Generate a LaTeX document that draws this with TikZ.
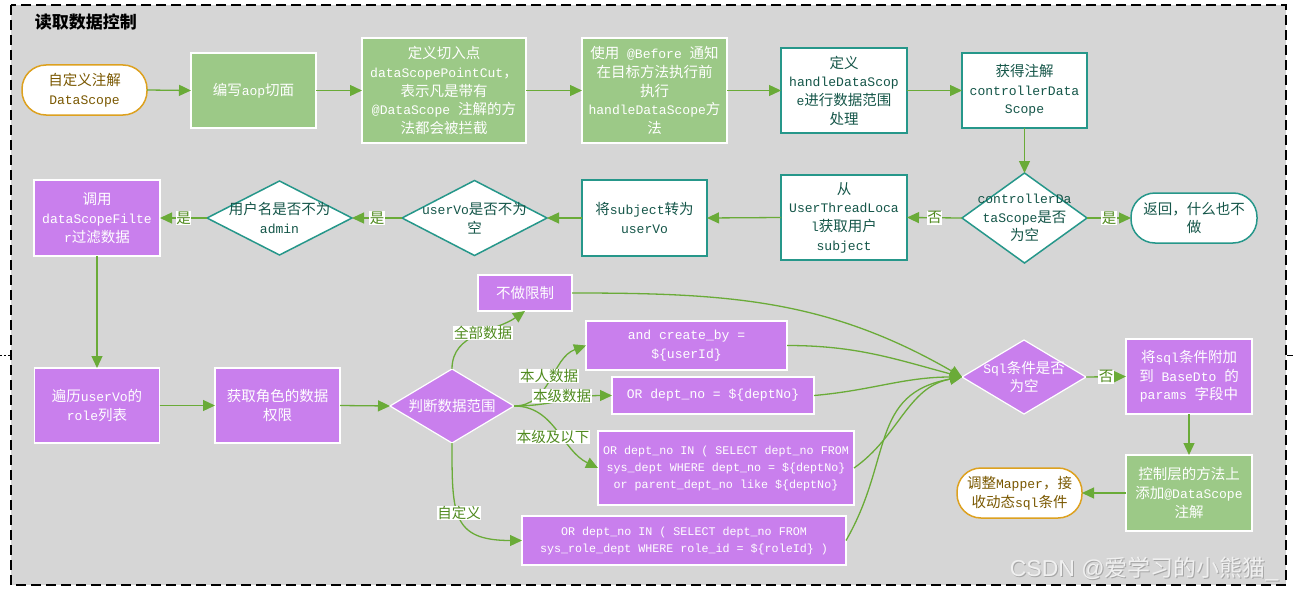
\documentclass[tikz,border=0pt]{standalone}
\usepackage{fontspec}
\usetikzlibrary{arrows.meta,shapes.geometric}
\setmainfont{Liberation Mono}[Scale=0.9]
\newfontfamily\lmono{Liberation Mono}[Scale=0.9]
\newfontfamily\cjk{Noto Sans CJK SC}
\newfontfamily\wmsans{Liberation Sans}
\def\latinsw{\lmono}
\chardef\CJKcls=7
\newcount\cjkc
\cjkc="4E00 \loop\XeTeXcharclass\cjkc=\CJKcls\advance\cjkc by 1 \ifnum\cjkc<"A000 \repeat
\cjkc="3000 \loop\XeTeXcharclass\cjkc=\CJKcls\advance\cjkc by 1 \ifnum\cjkc<"3040 \repeat
\cjkc="FF00 \loop\XeTeXcharclass\cjkc=\CJKcls\advance\cjkc by 1 \ifnum\cjkc<"FF60 \repeat
\XeTeXinterchartoks 0 \CJKcls={\cjk}
\XeTeXinterchartoks 4095 \CJKcls={\cjk}
\XeTeXinterchartoks \CJKcls 0={\latinsw}
\XeTeXinterchartoks \CJKcls 4095={\latinsw}
\XeTeXinterchartokenstate=1
\definecolor{bg}{HTML}{D6D6D6}
\definecolor{gfill}{HTML}{9CC987}
\definecolor{pfill}{HTML}{C97FED}
\definecolor{tealb}{HTML}{26978A}
\definecolor{tealt}{HTML}{155649}
\definecolor{orab}{HTML}{DDA11F}
\definecolor{orat}{HTML}{7A5800}
\definecolor{lgreen}{HTML}{6AAB38}
\definecolor{ltext}{HTML}{4F8A1E}
\newcommand\nodefnt{\fontsize{14.5}{18.7}\selectfont}
\newcommand\smallfnt{\fontsize{13}{17}\selectfont}
\tikzset{
 every node/.style={outer sep=0pt},
 base/.style={align=center, inner sep=1pt, font=\nodefnt},
 sz/.style 2 args={minimum width=#1pt, minimum height=#2pt},
 gbox/.style={base, draw=white, fill=gfill, line width=1.2pt, text=white},
 pbox/.style={base, draw=white, fill=pfill, line width=1.2pt, text=white},
 tbox/.style={base, draw=tealb, fill=white, line width=1.5pt, text=tealt},
 tterm/.style={tbox, rounded corners=24pt},
 oterm/.style={base, draw=orab, fill=white, line width=1.5pt, text=orat, rounded corners=24pt},
 tdia/.style={diamond, draw=tealb, fill=white, line width=1.5pt, inner sep=0pt},
 pdia/.style={diamond, draw=white, fill=pfill, line width=1.2pt, inner sep=0pt},
 arr/.style={draw=lgreen, line width=1.3pt, -{Triangle[length=12pt,width=11pt]}},
 lbl/.style={fill=white, text=ltext, inner sep=0.6pt, font=\nodefnt},
 wmfont/.style={font=\fontsize{23}{26}\selectfont\def\latinsw{\wmsans}\wmsans, anchor=base east},
}
\begin{document}
\begin{tikzpicture}[x=1pt,y=-1pt]
\useasboundingbox (0,0) rectangle (1293,594);
\draw[fill=bg, line width=2pt, dash pattern=on 10pt off 5pt] (11,5) rectangle (1286,585);
\draw[line width=0.6pt, dash pattern=on 2pt off 2pt] (0,355) -- (10,355);
\draw[line width=0.8pt] (1287,355) -- (1293,355);
\node[anchor=west, font=\fontsize{17}{20}\selectfont\bfseries] (title) at (32,22) {读取数据控制};

% top row
\node[oterm, sz={125}{50}] (n1) at (84.5,90) {自定义注解\\DataScope};
\node[gbox, sz={125}{75}] (n2) at (253.5,90.5) {编写aop切面};
\node[gbox, sz={164}{105}] (n3) at (444,90.5) {定义切入点\\dataScopePointCut，\\表示凡是带有\\@DataScope 注解的方\\法都会被拦截};
\node[gbox, sz={145}{105}] (n4) at (654.5,90.5) {使用 @Before 通知\\在目标方法执行前\\执行\\handleDataScope方\\法};
\node[tbox, sz={126}{85}] (n5) at (844,90.5) {定义\\handleDataScop\\e进行数据范围\\处理};
\node[tbox, sz={125}{75}] (n6) at (1024.5,90.5) {获得注解\\controllerData\\Scope};

% second row
\node[tdia, sz={125}{90}] (d1) at (1024.5,218) {};
\node[base, text=tealt] (d1t) at (d1) {controllerDa\\taScope是否\\为空};
\node[tterm, sz={126}{50}] (n7) at (1194,218) {返回，什么也不\\做};
\node[tbox, sz={126}{85}] (n8) at (844,217.5) {从\\UserThreadLoca\\l获取用户\\subject};
\node[tbox, sz={125}{76}] (n9) at (644.5,218) {将subject转为\\userVo};
\node[tdia, sz={145}{75}] (d2) at (474.5,218) {};
\node[base, text=tealt] (d2t) at (d2) {userVo是否不为\\空};
\node[tdia, sz={145}{74}] (d3) at (279.5,218) {};
\node[base, text=tealt] (d3t) at (d3) {用户名是否不为\\admin};
\node[pbox, sz={126}{76}] (n10) at (97,218) {调用\\dataScopeFilte\\r过滤数据};

% bottom area
\node[pbox, sz={125}{75}] (n11) at (97,405.5) {遍历userVo的\\role列表};
\node[pbox, sz={125}{75}] (n12) at (277.5,405.5) {获取角色的数据\\权限};
\node[pdia, sz={124}{74}] (d4) at (452,406) {};
\node[base, text=white] (d4t) at (d4) {判断数据范围};
\node[pbox, sz={94}{36}] (s1) at (525,293) {不做限制};
\node[pbox, sz={201}{49}] (s2) at (686.5,345.5) {and create\_by =\\\$\{userId\}};
\node[pbox, sz={202}{37}] (s3) at (713,395.5) {OR dept\_no = \$\{deptNo\}};
\node[pbox, sz={256}{74}, font=\smallfnt] (s4) at (726,468) {OR dept\_no IN ( SELECT dept\_no FROM\\sys\_dept WHERE dept\_no = \$\{deptNo\}\\or parent\_dept\_no like \$\{deptNo\}};
\node[pbox, sz={324}{49}, font=\smallfnt] (s5) at (684,540.5) {OR dept\_no IN ( SELECT dept\_no FROM\\sys\_role\_dept WHERE role\_id = \$\{roleId\} )};
\node[pdia, sz={124}{74}] (d5) at (1024,377) {};
\node[base, text=white] (d5t) at (d5) {Sql条件是否\\为空};
\node[pbox, sz={126}{75}] (n13) at (1189,376.5) {将sql条件附加\\到 BaseDto 的\\params 字段中};
\node[gbox, sz={126}{76}] (n14) at (1189,493) {控制层的方法上\\添加@DataScope\\注解};
\node[oterm, sz={125}{50}] (n15) at (1019.5,493) {调整Mapper，接\\收动态sql条件};

% connectors
\draw[arr] (n1.east) -- (n2.west);
\draw[arr] (n2.east) -- (n3.west);
\draw[arr] (n3.east) -- (n4.west);
\draw[arr] (n4.east) -- (n5.west);
\draw[arr] (n5.east) -- (n6.west);
\draw[arr] (n6.south) -- (d1.north);
\draw[arr] (d1.east) -- node[lbl] (l1) {是} (n7.west);
\draw[arr] (d1.west) -- node[lbl] (l2) {否} (n8.east);
\draw[arr] (n8.west) -- (n9.east);
\draw[arr] (n9.west) -- (d2.east);
\draw[arr] (d2.west) -- node[lbl] (l3) {是} (d3.east);
\draw[arr] (d3.west) -- node[lbl] (l4) {是} (n10.east);
\draw[arr] (n10.south) -- (n11.north);
\draw[arr] (n11.east) -- (n12.west);
\draw[arr] (n12.east) -- (d4.west);
\draw[arr] (d4.north) to[out=90,in=215] (s1.south);
\draw[arr] (d4.east) to[out=0,in=200] (s2.west);
\draw[arr] (d4.east) to[out=0,in=180] (s3.west);
\draw[arr] (d4.east) to[out=0,in=154] (s4.west);
\draw[arr] (d4.south) to[out=-90,in=180,looseness=1.5] (s5.west);
\draw[arr] (s1.east) to[out=0,in=150] (d5.west);
\draw[arr] (s2.east) to[out=0,in=165] (d5.west);
\draw[arr] (s3.east) to[out=5,in=180] (d5.west);
\draw[arr] (s4.east) to[out=35,in=190] (d5.west);
\draw[arr] (s5.east) to[out=60,in=190,looseness=1.2] (d5.west);
\draw[arr] (d5.east) -- node[lbl] (l5) {否} (n13.west);
\draw[arr] (n13.south) -- (n14.north);
\draw[arr] (n14.west) -- (n15.east);

\node[lbl] (l6) at (483,333) {全部数据};
\node[lbl] (l7) at (549,376) {本人数据};
\node[lbl] (l8) at (562,396) {本级数据};
\node[lbl] (l9) at (553,437) {本级及以下};
\node[lbl] (l10) at (459,513) {自定义};

% watermark
\node[wmfont, text=black!35] (wms) at (1282.5,577) {CSDN @爱学习的小熊猫{\wmsans\char"5F}};
\node[wmfont, text=white!94!black] (wm) at (1281.5,576) {CSDN @爱学习的小熊猫{\wmsans\char"5F}};
\end{tikzpicture}
\end{document}
